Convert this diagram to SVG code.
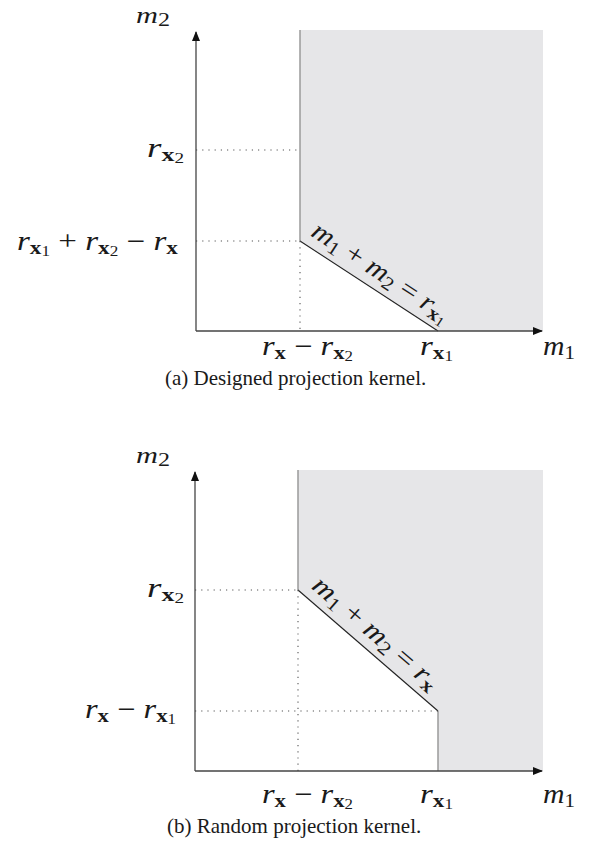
<svg xmlns="http://www.w3.org/2000/svg" width="594" height="854" viewBox="0 0 594 854">
<defs>
<marker id="arr" viewBox="0 0 10 8" refX="9" refY="4" markerWidth="10" markerHeight="8" markerUnits="userSpaceOnUse" orient="auto">
<path d="M0,0 L10,4 L0,8 Z" fill="#111"/>
</marker>
<style>
text{font-family:"Liberation Serif","Times New Roman",serif;fill:#1a1a1a;}
.m{font-size:27px;}
.mt{font-size:24px;}
.i{font-style:italic;}
.b{font-weight:bold;font-size:19px;}
.s{font-size:19px;}
.ss{font-size:14px;}
.cap{font-size:21px;}
.ax{stroke:#444;stroke-width:1.3;fill:none;}
.shade{fill:#e6e6e8;stroke:none;}
.edge{stroke:#9a9a9a;stroke-width:1.5;fill:none;}
.diag{stroke:#222;stroke-width:1.1;fill:none;}
.dot{stroke:#555;stroke-width:1.1;stroke-dasharray:1.2 5;fill:none;}
</style>
</defs>
<rect width="594" height="854" fill="#fff"/>

<g id="panel-a">
<polygon class="shade" points="300,30 543,30 543,331 438,331 300,241"/>
<path class="edge" d="M300,30 V241"/>
<path class="diag" d="M300,241 L438,331"/>
<path class="dot" d="M196,150 H300 M196,241 H300 M300,241 V331"/>
<g id="axes-a">
<path class="ax" d="M196,331 V32" marker-end="url(#arr)"/>
<path class="ax" d="M196,331 H542" marker-end="url(#arr)"/>
</g>
<text class="mt" x="136" y="23" textLength="34" lengthAdjust="spacingAndGlyphs"><tspan class="i">m</tspan><tspan class="s" dy="3">2</tspan></text>
<text class="m" x="147" y="157" textLength="37" lengthAdjust="spacingAndGlyphs"><tspan class="i">r</tspan><tspan class="b" dy="4">x</tspan><tspan class="ss" dy="2">2</tspan></text>
<text class="m" x="17" y="250" textLength="161" lengthAdjust="spacingAndGlyphs"><tspan class="i">r</tspan><tspan class="b" dy="4">x</tspan><tspan class="ss" dy="2">1</tspan><tspan dy="-6"> + </tspan><tspan class="i">r</tspan><tspan class="b" dy="4">x</tspan><tspan class="ss" dy="2">2</tspan><tspan dy="-6"> − </tspan><tspan class="i">r</tspan><tspan class="b" dy="4">x</tspan></text>
<text class="m" x="262" y="355" textLength="91" lengthAdjust="spacingAndGlyphs"><tspan class="i">r</tspan><tspan class="b" dy="4">x</tspan><tspan dy="-4"> − </tspan><tspan class="i">r</tspan><tspan class="b" dy="4">x</tspan><tspan class="ss" dy="2">2</tspan></text>
<text class="m" x="420" y="355" textLength="33" lengthAdjust="spacingAndGlyphs"><tspan class="i">r</tspan><tspan class="b" dy="4">x</tspan><tspan class="ss" dy="2">1</tspan></text>
<text class="m" x="543" y="355" textLength="32" lengthAdjust="spacingAndGlyphs"><tspan class="i">m</tspan><tspan class="s" dy="4">1</tspan></text>
<text class="m" transform="translate(300,241) rotate(33.1)" x="5" y="-10" textLength="160" lengthAdjust="spacingAndGlyphs"><tspan class="i">m</tspan><tspan class="s" dy="4">1</tspan><tspan dy="-4"> + </tspan><tspan class="i">m</tspan><tspan class="s" dy="4">2</tspan><tspan dy="-4"> = </tspan><tspan class="i">r</tspan><tspan class="b" dy="4">x</tspan><tspan class="ss" dy="2">1</tspan></text>
<text class="cap" x="165" y="385">(a) Designed projection kernel.</text>
</g>

<g id="panel-b">
<polygon class="shade" points="298,470 543,470 543,771 438,771 438,711 298,590"/>
<path class="edge" d="M298,470 V590 M438,711 V771"/>
<path class="diag" d="M298,590 L438,711"/>
<path class="dot" d="M195,590 H298 M195,711 H438 M298,590 V771"/>
<g id="axes-b">
<path class="ax" d="M195,771 V472" marker-end="url(#arr)"/>
<path class="ax" d="M195,771 H542" marker-end="url(#arr)"/>
</g>
<text class="mt" x="136" y="463" textLength="34" lengthAdjust="spacingAndGlyphs"><tspan class="i">m</tspan><tspan class="s" dy="3">2</tspan></text>
<text class="m" x="147" y="597" textLength="37" lengthAdjust="spacingAndGlyphs"><tspan class="i">r</tspan><tspan class="b" dy="4">x</tspan><tspan class="ss" dy="2">2</tspan></text>
<text class="m" x="85" y="718" textLength="91" lengthAdjust="spacingAndGlyphs"><tspan class="i">r</tspan><tspan class="b" dy="4">x</tspan><tspan dy="-4"> − </tspan><tspan class="i">r</tspan><tspan class="b" dy="4">x</tspan><tspan class="ss" dy="2">1</tspan></text>
<text class="m" x="262" y="803" textLength="91" lengthAdjust="spacingAndGlyphs"><tspan class="i">r</tspan><tspan class="b" dy="4">x</tspan><tspan dy="-4"> − </tspan><tspan class="i">r</tspan><tspan class="b" dy="4">x</tspan><tspan class="ss" dy="2">2</tspan></text>
<text class="m" x="420" y="803" textLength="33" lengthAdjust="spacingAndGlyphs"><tspan class="i">r</tspan><tspan class="b" dy="4">x</tspan><tspan class="ss" dy="2">1</tspan></text>
<text class="m" x="543" y="803" textLength="32" lengthAdjust="spacingAndGlyphs"><tspan class="i">m</tspan><tspan class="s" dy="4">1</tspan></text>
<text class="m" transform="translate(298,590) rotate(40.8)" x="8" y="-10" textLength="158" lengthAdjust="spacingAndGlyphs"><tspan class="i">m</tspan><tspan class="s" dy="4">1</tspan><tspan dy="-4"> + </tspan><tspan class="i">m</tspan><tspan class="s" dy="4">2</tspan><tspan dy="-4"> = </tspan><tspan class="i">r</tspan><tspan class="b" dy="4">x</tspan></text>
<text class="cap" x="167" y="833">(b) Random projection kernel.</text>
</g>
</svg>
